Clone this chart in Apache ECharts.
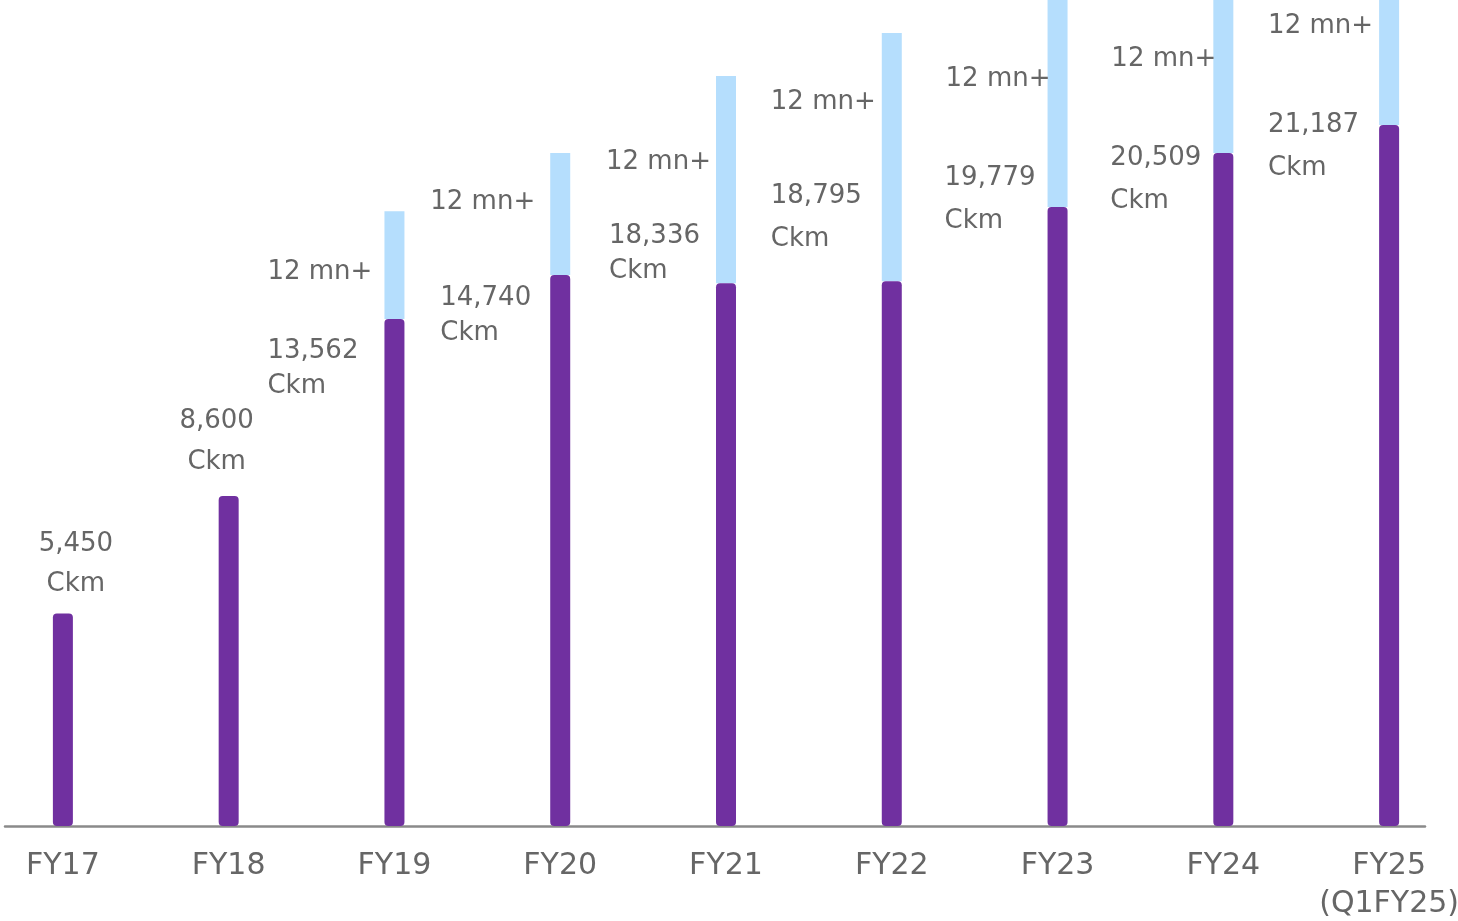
<!DOCTYPE html>
<html>
<head>
<meta charset="utf-8">
<script src="https://cdn.jsdelivr.net/npm/echarts@6/dist/echarts.min.js"></script>
<style>
  html, body { margin: 0; padding: 0; background: #ffffff; }
  #chart { width: 1458px; height: 921px; }
</style>
</head>
<body>
<div id="chart"></div>
<script>
// ---- data ----
const categories = ['FY17', 'FY18', 'FY19', 'FY20', 'FY21', 'FY22', 'FY23', 'FY24', 'FY25\n(Q1FY25)'];
// drawn length of the purple bars (the infographic is not to scale), in Ckm-like units
const networkBarLength = [5400, 8390, 12890, 14010, 13800, 13850, 15740, 17110, 17820];
// drawn length of the light-blue extension above each purple bar (FY23 onwards runs off the top)
const homesBarLength = [null, null, 2740, 3100, 5265, 6310, 6000, 5500, 5000];
// text labels
const ckmLabels = ['5,450', '8,600', '13,562', '14,740', '18,336', '18,795', '19,779', '20,509', '21,187'];
const homesLabels = [null, null, '12 mn+', '12 mn+', '12 mn+', '12 mn+', '12 mn+', '12 mn+', '12 mn+'];

// ---- label layout (offsets from each bar) ----
// [x from bar centre, y of text top from bar top, line height, align]
const ckmLabelLayout = [
  [13, -89, 40, 'center'],
  [-12, -95, 41, 'center'],
  [-127, 15, 35, 'left'],
  [-120, 6, 35, 'left'],
  [-117, -64, 35, 'left'],
  [-121, -106, 43, 'left'],
  [-113, -50, 43, 'left'],
  [-113, -16, 43, 'left'],
  [-121, -21, 43, 'left']
];
// [x from bar centre, y of text middle from purple bar top]
const homesLabelLayout = [
  null, null,
  [-127, -47], [-130, -73], [-120, -121], [-121, -179], [-112, -128], [-112, -94], [-121, -99]
];

const FONT = 'DejaVu Sans';
const TEXT = '#666666';
const BAR_W = 20;

const purpleData = networkBarLength.map((v, i) => {
  const l = ckmLabelLayout[i];
  return {
    value: v,
    label: {
      show: true,
      position: [l[0] + BAR_W / 2, l[1]],
      align: l[3],
      verticalAlign: 'top',
      lineHeight: l[2],
      formatter: ckmLabels[i] + '\nCkm'
    }
  };
});

const blueData = homesBarLength.map((v, i) => {
  if (v == null) return '-';
  const l = homesLabelLayout[i];
  return {
    value: v,
    label: {
      show: true,
      position: [l[0] + BAR_W / 2, '100%'],
      offset: [0, l[1]],
      align: 'left',
      verticalAlign: 'middle',
      formatter: homesLabels[i]
    }
  };
});

const chart = echarts.init(document.getElementById('chart'), null, { renderer: 'canvas' });
chart.setOption({
  animation: false,
  backgroundColor: '#ffffff',
  textStyle: { fontFamily: FONT },
  grid: [
    { left: -20, right: -14, top: 0, bottom: 95, outerBoundsMode: 'none', containLabel: false },
    { left: 5, right: 33, top: 0, bottom: 95, outerBoundsMode: 'none', containLabel: false }
  ],
  xAxis: [
    {
      type: 'category',
      data: categories,
      gridIndex: 0,
      axisLine: { show: false },
      axisTick: { show: false },
      axisLabel: {
        color: TEXT, fontSize: 30, fontFamily: FONT,
        margin: 21, lineHeight: 38, interval: 0, hideOverlap: false
      }
    },
    {
      type: 'value',
      gridIndex: 1,
      min: 0, max: 1,
      position: 'bottom',
      axisLine: { show: true, onZero: false, lineStyle: { color: '#8a8a8a', width: 2.5 } },
      axisTick: { show: false },
      axisLabel: { show: false },
      splitLine: { show: false }
    }
  ],
  yAxis: [
    { type: 'value', gridIndex: 0, min: 0, max: 21000, show: false, splitLine: { show: false } },
    { type: 'value', gridIndex: 1, min: 0, max: 1, show: false, splitLine: { show: false } }
  ],
  series: [
    {
      type: 'bar',
      stack: 'a',
      barWidth: BAR_W,
      data: purpleData,
      z: 3,
      itemStyle: { color: '#7030A0', borderRadius: 4 },
      label: { color: TEXT, fontSize: 26, fontFamily: FONT }
    },
    {
      type: 'bar',
      stack: 'a',
      barWidth: BAR_W,
      data: blueData,
      clip: true,
      z: 2,
      itemStyle: { color: '#B5DEFD' },
      label: { color: TEXT, fontSize: 26, fontFamily: FONT }
    }
  ]
});
</script>
</body>
</html>
